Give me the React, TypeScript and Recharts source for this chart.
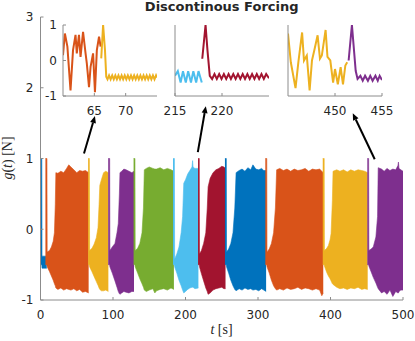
import { Area, ComposedChart, Line, LineChart, ReferenceLine, XAxis, YAxis } from 'recharts';

// envelopes of the dense oscillation blocks: [t, low, high]
const blueA = [[0, -0.5, 1.0], [1.8, -0.5, 1.0], [2.1, -0.55, -0.38], [8.6, -0.55, -0.38]];
const orangeA = [
  [6.8, -0.5, 1.0], [8.9, -0.5, 1.0], [9.2, -0.53, -0.32], [12.5, -0.6, -0.3], [15, -0.66, -0.25],
  [17.5, -0.72, -0.17], [19.2, -0.77, -0.05], [20.4, -0.8, 0.35], [21.2, -0.83, 0.8], [24, -0.85, 0.79],
  [28, -0.83, 0.82], [32, -0.86, 0.8], [36, -0.84, 0.86], [39, -0.85, 0.91], [42, -0.86, 0.88],
  [46, -0.84, 0.84], [50, -0.87, 0.8], [54, -0.85, 0.83], [58, -0.89, 0.82], [62, -0.88, 0.83], [66.4, -0.9, 0.8],
];
const yellowA = [
  [65.7, -0.5, 1.0], [67.4, -0.5, 1.0], [67.7, -0.53, -0.3], [71, -0.6, -0.27], [74, -0.67, -0.21],
  [77, -0.74, -0.12], [79.3, -0.79, 0.02], [80.8, -0.83, 0.35], [81.8, -0.85, 0.62], [84, -0.87, 0.7],
  [87, -0.87, 0.8], [90, -0.86, 0.82], [93.6, -0.88, 0.8],
];
const purpleA = [
  [93.4, -0.5, 1.0], [95.4, -0.5, 1.0], [95.7, -0.53, -0.3], [99, -0.62, -0.25], [102.7, -0.73, -0.2],
  [105.5, -0.82, -0.05], [107.3, -0.88, 0.08], [108.8, -0.91, 0.5], [109.6, -0.92, 0.8], [112, -0.9, 0.82],
  [115, -0.88, 0.85], [118, -0.89, 0.84], [122, -0.9, 0.82], [126, -0.88, 0.8], [129, -0.88, 0.82],
];
const green = [
  [128.4, -0.5, 1.0], [130.3, -0.5, 1.0], [130.6, -0.53, -0.3], [134, -0.62, -0.27], [137, -0.7, -0.2],
  [140, -0.77, -0.05], [142, -0.82, 0.3], [143.2, -0.86, 0.84], [146, -0.88, 0.86], [150, -0.86, 0.88],
  [155, -0.84, 0.86], [157.7, -0.9, 0.85], [160, -0.87, 0.85], [165, -0.85, 0.87], [170, -0.84, 0.84],
  [175, -0.86, 0.86], [180, -0.83, 0.84], [184, -0.85, 0.82],
];
const lightBlue = [
  [182.8, -0.5, 1.0], [184.7, -0.5, 1.0], [185.0, -0.53, -0.42], [188, -0.62, -0.35], [191, -0.72, -0.25],
  [194, -0.8, -0.05], [196, -0.86, 0.18], [197.6, -0.9, 0.65], [200, -0.88, 0.7], [203, -0.85, 0.78],
  [206, -0.83, 0.83], [209, -0.82, 0.88], [209.8, -0.82, 0.97], [210.4, -0.82, 0.88], [213, -0.84, 0.86],
  [217.8, -0.83, 0.86],
];
const darkRed = [
  [217.3, -0.5, 1.0], [219.0, -0.5, 1.0], [219.3, -0.53, -0.35], [222, -0.63, -0.3], [225, -0.73, -0.2],
  [228, -0.83, -0.05], [230, -0.88, 0.3], [231.2, -0.92, 0.6], [234, -0.9, 0.72], [238, -0.86, 0.8],
  [242, -0.84, 0.84], [246, -0.83, 0.86], [250, -0.82, 0.89], [253, -0.84, 0.88], [255.2, -0.84, 0.86],
];
const blueB = [
  [254.4, -0.5, 1.0], [256.3, -0.5, 1.0], [256.6, -0.53, -0.32], [259.5, -0.62, -0.28], [262.5, -0.72, -0.2],
  [265.5, -0.8, -0.05], [268, -0.85, 0.3], [269.8, -0.87, 0.8], [274, -0.84, 0.83], [278, -0.86, 0.85],
  [282, -0.83, 0.82], [286, -0.85, 0.87], [290, -0.84, 0.84], [293, -0.86, 0.91], [297, -0.85, 0.85],
  [301, -0.87, 0.84], [305, -0.84, 0.86], [308, -0.86, 0.83], [311.2, -0.88, 0.83],
];
const orangeB = [
  [310.1, -0.5, 1.0], [312.1, -0.5, 1.0], [312.4, -0.53, -0.32], [315.5, -0.62, -0.28], [318.5, -0.72, -0.2],
  [321.5, -0.8, -0.05], [324, -0.84, 0.3], [325.7, -0.86, 0.84], [330, -0.84, 0.86], [335, -0.86, 0.83],
  [340, -0.83, 0.85], [345, -0.85, 0.82], [350, -0.84, 0.85], [355, -0.82, 0.83], [360, -0.85, 0.84],
  [365, -0.83, 0.86], [370, -0.84, 0.82], [375, -0.86, 0.85], [380, -0.84, 0.84], [385, -0.86, 0.85],
  [388, -0.94, 0.82], [390, -0.9, 0.8],
];
const yellowB = [
  [389.3, -0.5, 1.0], [391.3, -0.5, 1.0], [391.6, -0.52, -0.3], [394.8, -0.61, -0.27], [397.1, -0.66, -0.23],
  [399.4, -0.7, -0.15], [400.8, -0.73, -0.06], [402.6, -0.77, 0.41], [403.5, -0.78, 0.82], [408.6, -0.82, 0.84],
  [413, -0.84, 0.82], [418, -0.83, 0.84], [423, -0.85, 0.81], [428, -0.83, 0.84], [433, -0.84, 0.82],
  [438, -0.82, 0.84], [443, -0.85, 0.83], [447, -0.84, 0.82], [451.3, -0.85, 0.8],
];
const purpleB = [
  [450.8, -0.5, 1.0], [452.6, -0.5, 1.0], [452.9, -0.52, -0.3], [456, -0.6, -0.28], [459, -0.68, -0.25],
  [462.6, -0.76, -0.11], [464.9, -0.82, 0.18], [465.8, -0.84, 0.87], [470.4, -0.9, 0.85], [474, -0.88, 0.82],
  [478, -0.92, 0.86], [482, -0.86, 0.83], [486, -0.95, 0.85], [490, -0.88, 0.84], [493, -0.9, 0.9],
  [493.7, -0.9, 0.95], [494.5, -0.88, 0.86], [497, -0.86, 0.84], [500, -0.86, 0.82],
];

// zoomed windows: [t, g]
const inset1Orange = [
  [60.0, 0.15], [60.3, 0.76], [60.7, 0.39], [61.2, -0.84], [61.6, 0.29], [62.0, 0.72], [62.2, 0.2],
  [62.55, 0.72], [62.8, 0.1], [63.2, 0.81], [63.6, 0.2], [63.8, -0.08], [64.15, -0.75], [64.4, -0.18],
  [64.8, 0.2], [65.1, -0.89], [65.4, 0.29], [65.75, 0.67], [66.0, 0.39],
];
const inset1Yellow = [
  [66.1, 0.06], [66.4, 1.0], [66.7, 0.29], [66.9, -0.46], [67.1, -0.53], [67.35, -0.42], [67.6, -0.53],
  [67.85, -0.42], [68.1, -0.53], [68.35, -0.42], [68.6, -0.53], [68.85, -0.42], [69.1, -0.53], [69.35, -0.42],
  [69.6, -0.53], [69.85, -0.42], [70.1, -0.53], [70.35, -0.42], [70.6, -0.53], [70.85, -0.42], [71.1, -0.53],
  [71.35, -0.42], [71.6, -0.53], [71.85, -0.42], [72.1, -0.53], [72.35, -0.42], [72.6, -0.53], [72.85, -0.42],
  [73.1, -0.53], [73.35, -0.42], [73.6, -0.53], [73.85, -0.42], [74.1, -0.53], [74.35, -0.42], [74.6, -0.53],
  [74.85, -0.42], [75.0, -0.48],
];
const inset2Blue = [
  [215.0, -0.43], [215.3, -0.3], [215.6, -0.62], [215.85, -0.3], [216.15, -0.62], [216.4, -0.3],
  [216.7, -0.62], [216.95, -0.3], [217.25, -0.62], [217.5, -0.3], [217.85, -0.62],
];
const inset2Red = [
  [217.9, 0.05], [218.25, 1.0], [218.45, 0.3], [218.7, -0.43], [218.95, -0.52], [219.2, -0.38], [219.45, -0.52],
  [219.7, -0.38], [219.95, -0.52], [220.2, -0.38], [220.45, -0.52], [220.7, -0.38], [220.95, -0.52],
  [221.2, -0.38], [221.45, -0.52], [221.7, -0.38], [221.95, -0.52], [222.2, -0.38], [222.45, -0.52],
  [222.7, -0.38], [222.95, -0.52], [223.2, -0.38], [223.45, -0.52], [223.7, -0.38], [223.95, -0.52],
  [224.2, -0.38], [224.45, -0.52], [224.7, -0.38], [225.0, -0.5],
];
const inset3Yellow = [
  [445.0, 0.76], [445.3, -0.05], [445.8, -0.78], [446.1, -0.05], [446.5, 0.79], [446.7, 0.0], [447.0, 0.14],
  [447.3, -0.84], [447.55, 0.0], [447.8, 0.29], [448.15, 0.71], [448.4, 0.05], [448.6, 0.14], [449.0, 0.86],
  [449.2, 0.1], [449.5, 0.0], [449.8, -0.62], [450.0, -0.24], [450.3, -0.67], [450.6, -0.19], [450.85, -0.67],
  [451.1, -0.14], [451.3, -0.05],
];
const inset3Purple = [
  [451.45, 0.0], [451.8, 1.0], [452.2, -0.29], [452.4, -0.52], [452.7, -0.43], [452.95, -0.57], [453.2, -0.43],
  [453.5, -0.57], [453.75, -0.43], [454.0, -0.57], [454.3, -0.43], [454.55, -0.57], [454.75, -0.43], [455.0, -0.55],
];

const mainXTicks = [0, 100, 200, 300, 400, 500];
const mainYTicks = [-1, 0, 1, 2, 3];

// arrow annotations in data units: [tFrom, gFrom, tTo, gTo]
const arrows = [
  [60, 1.07, 75.1, 1.6],
  [217, 1.09, 228, 1.74],
  [461, 0.99, 430.7, 1.64],
];

const C = {
  blue: '#0072BD', orange: '#D95319', yellow: '#EDB120', purple: '#7E2F8E',
  green: '#77AC30', light: '#4DBEEE', red: '#A2142F',
};

const blocks = [
  { env: blueA, color: C.blue }, { env: orangeA, color: C.orange }, { env: yellowA, color: C.yellow },
  { env: purpleA, color: C.purple }, { env: green, color: C.green }, { env: lightBlue, color: C.light },
  { env: darkRed, color: C.red }, { env: blueB, color: C.blue }, { env: orangeB, color: C.orange },
  { env: yellowB, color: C.yellow }, { env: purpleB, color: C.purple },
];

const axisGray = '#8c8c8c';
const textDark = '#262626';
const tickFont = { fill: textDark, fontSize: 12, fontFamily: 'DejaVu Sans' };

const envRows = (env: number[][]) => env.map(([t, lo, hi]) => ({ t, v: [lo, hi] }));
const lineRows = (pts: number[][]) => pts.map(([t, g]) => ({ t, g }));

const Arrow = (p: any) => {
  const { x1, y1, x2, y2 } = p;
  const a = Math.atan2(y2 - y1, x2 - x1);
  const len = 7;
  const half = 3;
  const bx = x2 - len * Math.cos(a);
  const by = y2 - len * Math.sin(a);
  const nx = -Math.sin(a) * half;
  const ny = Math.cos(a) * half;
  return (
    <g>
      <line x1={x1} y1={y1} x2={bx} y2={by} stroke="#000" strokeWidth={2} />
      <polygon points={`${x2},${y2} ${bx + nx},${by + ny} ${bx - nx},${by - ny}`} fill="#000" />
    </g>
  );
};

type InsetProps = {
  left: number;
  domain: [number, number];
  ticks: number[];
  yLabels: boolean;
  series: { pts: number[][]; color: string }[];
};

const Inset = ({ left, domain, ticks, yLabels, series }: InsetProps) => (
  <div style={{ position: 'absolute', left: left - 30, top: 19 }}>
    <LineChart width={146} height={105} margin={{ top: 6, right: 22, bottom: 0, left: 0 }}>
      <XAxis xAxisId="b" type="number" dataKey="t" domain={domain} ticks={ticks} interval={0} height={28}
        allowDataOverflow stroke={axisGray} tickLine={{ stroke: axisGray }} tickSize={-3} tickMargin={13} tick={tickFont} />
      <XAxis xAxisId="top" orientation="top" type="number" dataKey="t" domain={domain} ticks={ticks} height={0}
        allowDataOverflow stroke={axisGray} tickLine={{ stroke: axisGray }} tickSize={-3} tick={false} />
      <YAxis yAxisId="l" type="number" domain={[-1, 1]} ticks={[-1, 0, 1]} interval={0} width={30}
        allowDataOverflow stroke={axisGray} tickLine={yLabels ? { stroke: axisGray } : false} tickSize={-3}
        tickMargin={9} tick={yLabels ? tickFont : false} />
      <YAxis yAxisId="r" orientation="right" type="number" domain={[-1, 1]} ticks={[-1, 0, 1]} width={0}
        allowDataOverflow stroke={axisGray} tickLine={yLabels ? { stroke: axisGray } : false} tickSize={-3} tick={false} />
      {series.map((s, i) => (
        <Line key={i} xAxisId="b" yAxisId="l" data={lineRows(s.pts)} dataKey="g" type="linear"
          stroke={s.color} strokeWidth={2} dot={false} isAnimationActive={false} />
      ))}
    </LineChart>
  </div>
);

export default function App() {
  return (
    <div style={{ position: 'relative', width: 415, height: 341, fontFamily: 'DejaVu Sans', color: textDark }}>
      <style>{'body{margin:0}'}</style>
      <ComposedChart width={415} height={341} margin={{ top: 17, right: 12, bottom: 0, left: 0 }}>
        <XAxis xAxisId="b" type="number" dataKey="t" domain={[0, 500]} ticks={mainXTicks} interval={0} height={41}
          allowDataOverflow stroke={axisGray} tickLine={{ stroke: axisGray }} tickSize={-3} tickMargin={13} tick={tickFont} />
        <XAxis xAxisId="top" orientation="top" type="number" dataKey="t" domain={[0, 500]} ticks={mainXTicks} height={0}
          allowDataOverflow stroke={axisGray} tickLine={{ stroke: axisGray }} tickSize={-3} tick={false} />
        <YAxis yAxisId="l" type="number" domain={[-1, 3]} ticks={mainYTicks} interval={0} width={40.5}
          allowDataOverflow stroke={axisGray} tickLine={{ stroke: axisGray }} tickSize={-3} tickMargin={10} tick={tickFont} />
        <YAxis yAxisId="r" orientation="right" type="number" domain={[-1, 3]} ticks={mainYTicks} width={0}
          allowDataOverflow stroke={axisGray} tickLine={{ stroke: axisGray }} tickSize={-3} tick={false} />
        {blocks.map((b, i) => (
          <Area key={i} xAxisId="b" yAxisId="l" data={envRows(b.env)} dataKey="v" type="linear"
            stroke={b.color} strokeWidth={0.6} fill={b.color} fillOpacity={1} isAnimationActive={false} />
        ))}
        {arrows.map(([t1, g1, t2, g2], i) => (
          <ReferenceLine key={i} xAxisId="b" yAxisId="l" ifOverflow="visible"
            segment={[{ x: t1, y: g1 }, { x: t2, y: g2 }]} shape={Arrow} />
        ))}
      </ComposedChart>

      <Inset left={63.3} domain={[60, 75]} ticks={[65, 70]} yLabels
        series={[{ pts: inset1Orange, color: C.orange }, { pts: inset1Yellow, color: C.yellow }]} />
      <Inset left={175} domain={[215, 225]} ticks={[215, 220]} yLabels={false}
        series={[{ pts: inset2Blue, color: C.light }, { pts: inset2Red, color: C.red }]} />
      <Inset left={287.5} domain={[445, 455]} ticks={[450, 455]} yLabels={false}
        series={[{ pts: inset3Yellow, color: C.yellow }, { pts: inset3Purple, color: C.purple }]} />

      <div style={{ position: 'absolute', left: 221.7, top: -0.5, transform: 'translateX(-50%)', whiteSpace: 'nowrap',
        fontWeight: 'bold', fontSize: 13, lineHeight: '13px' }}>
        Discontinous Forcing
      </div>
      <div style={{ position: 'absolute', left: 221.5, top: 323, transform: 'translateX(-50%)', whiteSpace: 'nowrap',
        fontFamily: 'Liberation Serif', fontSize: 14, lineHeight: '14px' }}>
        <i>t</i> [s]
      </div>
      <div style={{ position: 'absolute', left: 8, top: 158, transform: 'translate(-50%, -50%) rotate(-90deg)',
        whiteSpace: 'nowrap', fontFamily: 'Liberation Serif', fontSize: 14, lineHeight: '14px' }}>
        <i>g</i>(<i>t</i>) [N]
      </div>
    </div>
  );
}
